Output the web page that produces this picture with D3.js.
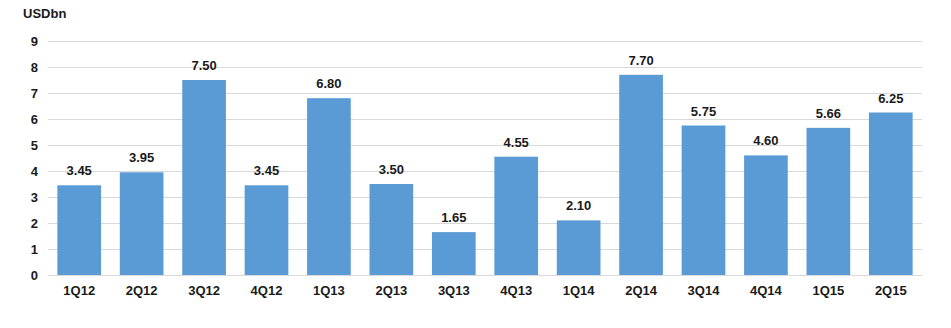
<!DOCTYPE html>
<html>
<head>
<meta charset="utf-8">
<script src="https://cdn.jsdelivr.net/npm/d3@7"></script>
<style>
  html, body { margin: 0; padding: 0; background: #fff; }
  svg { display: block; font-family: "Liberation Sans", Arial, sans-serif; }
</style>
</head>
<body>
<svg id="chart" width="951" height="328"></svg>
<script>
const categories = ["1Q12","2Q12","3Q12","4Q12","1Q13","2Q13","3Q13","4Q13","1Q14","2Q14","3Q14","4Q14","1Q15","2Q15"];
const values = [3.45,3.95,7.50,3.45,6.80,3.50,1.65,4.55,2.10,7.70,5.75,4.60,5.66,6.25];
const yTicks = [0,1,2,3,4,5,6,7,8,9];
const unitLabel = "USDbn";

(function () {
const svg = d3.select("#chart");
const mLeft = 48, mRight = 922, mTop = 41, mBottom = 275;

const x = d3.scaleBand().domain(categories).range([mLeft, mRight]).paddingInner(0.3).paddingOuter(0.15);
const y = d3.scaleLinear().domain([0, 9]).range([mBottom, mTop]);

// gridlines
svg.append("g").selectAll("line").data(yTicks).join("line")
  .attr("x1", mLeft).attr("x2", mRight)
  .attr("y1", d => y(d) + 0.5).attr("y2", d => y(d) + 0.5)
  .attr("stroke", "#d9d9d9").attr("stroke-width", 1);

// y axis labels
const yAxis = d3.axisLeft(y).tickValues(yTicks).tickSize(0).tickPadding(0).tickFormat(d3.format("d"));
const yg = svg.append("g").attr("transform", "translate(38,0)").call(yAxis);
yg.select(".domain").remove();
yg.selectAll("text").attr("font-size", 13).attr("font-weight", "bold").attr("fill", "#1a1a1a")
  .attr("font-family", "'Liberation Sans', Arial, sans-serif").attr("dy", "0.36em");

// bars
svg.append("g").selectAll("rect").data(values).join("rect")
  .attr("x", (d, i) => x(categories[i]))
  .attr("width", x.bandwidth())
  .attr("y", d => y(d))
  .attr("height", d => y(0) - y(d))
  .attr("fill", "#5b9bd5");

// value labels
svg.append("g").selectAll("text").data(values).join("text")
  .attr("x", (d, i) => x(categories[i]) + x.bandwidth() / 2)
  .attr("y", d => y(d) - 10)
  .attr("text-anchor", "middle")
  .attr("font-size", 13).attr("font-weight", "bold").attr("fill", "#1a1a1a")
  .text(d => d3.format(".2f")(d));

// x axis labels
const xAxis = d3.axisBottom(x).tickSize(0).tickPadding(0);
const xg = svg.append("g").attr("transform", `translate(0,${mBottom})`).call(xAxis);
xg.select(".domain").remove();
xg.selectAll("text").attr("font-size", 13).attr("font-weight", "bold").attr("fill", "#1a1a1a")
  .attr("font-family", "'Liberation Sans', Arial, sans-serif").attr("dy", 0).attr("y", 20);

// unit label
svg.append("text").attr("x", 23).attr("y", 18)
  .attr("font-size", 13).attr("font-weight", "bold").attr("fill", "#1a1a1a")
  .text(unitLabel);
})();
</script>
</body>
</html>
